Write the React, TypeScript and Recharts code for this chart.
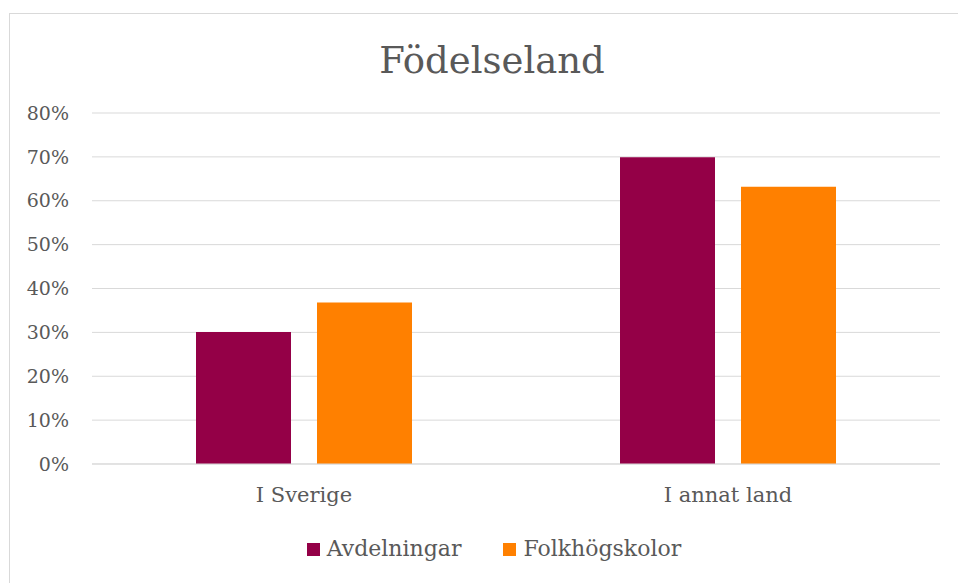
import React from "react";
import { Bar, BarChart, CartesianGrid, XAxis, YAxis } from "recharts";

const categories = ["I Sverige", "I annat land"];
const avdelningar = [0.301, 0.699];
const folkhogskolor = [0.368, 0.632];
const yTicks = [0, 0.1, 0.2, 0.3, 0.4, 0.5, 0.6, 0.7, 0.8];

const series = [
    { key: "avd", name: "Avdelningar", color: "#940047", values: avdelningar },
    { key: "folk", name: "Folkhögskolor", color: "#FF8000", values: folkhogskolor },
];

const data = categories.map((cat, i) => ({
    cat,
    avd: avdelningar[i],
    folk: folkhogskolor[i],
}));

const font = "'DejaVu Serif', serif";
const textColor = "#595959";
const gridColor = "#d9d9d9";

const pct = (v: number) => `${Math.round(v * 100)}%`;

export default function App() {
    return (
        <div style={{ position: "relative", width: 958, height: 583, overflow: "hidden", background: "#fff" }}>
            <style>{"body{margin:0;overflow:hidden}"}</style>
            <div
                style={{
                    position: "absolute",
                    left: 9,
                    top: 13,
                    width: 1000,
                    height: 1000,
                    border: `1px solid ${gridColor}`,
                }}
            />
            <div
                style={{
                    position: "absolute",
                    left: 0,
                    top: 42,
                    width: 984,
                    textAlign: "center",
                    fontFamily: font,
                    fontSize: 37,
                    lineHeight: "37px",
                    color: textColor,
                }}
            >
                Födelseland
            </div>
            <div style={{ position: "absolute", left: 0, top: 0 }}>
                <BarChart
                    width={958}
                    height={583}
                    data={data}
                    margin={{ top: 113, right: 18, left: 0, bottom: 79 }}
                    barSize={95}
                    barGap={26}
                >
                    <CartesianGrid vertical={false} stroke={gridColor} />
                    <XAxis
                        dataKey="cat"
                        height={40}
                        tickLine={false}
                        axisLine={{ stroke: gridColor }}
                        tickMargin={17}
                        tick={{ fontFamily: font, fontSize: 21, fill: textColor }}
                    />
                    <YAxis
                        width={92}
                        domain={[0, 0.8]}
                        ticks={yTicks}
                        tickFormatter={pct}
                        tickLine={false}
                        axisLine={false}
                        tickMargin={17}
                        tick={{ fontFamily: font, fontSize: 19, fill: textColor }}
                    />
                    {series.map((s) => (
                        <Bar
                            key={s.key}
                            dataKey={s.key}
                            name={s.name}
                            fill={s.color}
                            isAnimationActive={false}
                        />
                    ))}
                </BarChart>
            </div>
            <div
                style={{
                    position: "absolute",
                    left: 0,
                    top: 538,
                    width: 988,
                    display: "flex",
                    justifyContent: "center",
                    alignItems: "center",
                    gap: 42,
                    fontFamily: font,
                    fontSize: 22,
                    lineHeight: "22px",
                    color: textColor,
                }}
            >
                {series.map((s) => (
                    <div key={s.key} style={{ display: "flex", alignItems: "center" }}>
                        <span style={{ display: "inline-block", width: 13, height: 13, background: s.color, marginRight: 7 }} />
                        <span>{s.name}</span>
                    </div>
                ))}
            </div>
        </div>
    );
}
